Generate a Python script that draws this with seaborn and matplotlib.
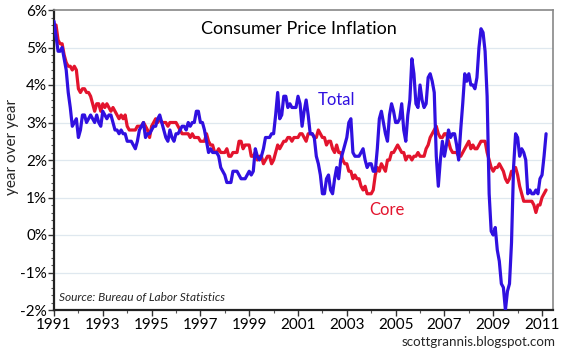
import numpy as np
import pandas as pd
import matplotlib
matplotlib.use("Agg")
import matplotlib.pyplot as plt
from matplotlib.ticker import MultipleLocator, FuncFormatter
import seaborn as sns

# Monthly year-over-year CPI inflation, Jan 1991 - Mar 2011 (%)
total = [
    5.7, 5.3, 4.9, 4.9, 5.0, 4.7, 4.4, 3.8, 3.4, 2.9, 3.0, 3.1,   # 1991
    2.6, 2.8, 3.2, 3.2, 3.0, 3.1, 3.2, 3.1, 3.0, 3.2, 3.0, 2.9,   # 1992
    3.3, 3.2, 3.1, 3.2, 3.2, 3.0, 2.8, 2.8, 2.7, 2.8, 2.7, 2.7,   # 1993
    2.5, 2.5, 2.5, 2.4, 2.3, 2.5, 2.8, 2.9, 3.0, 2.6, 2.7, 2.7,   # 1994
    2.8, 2.9, 2.9, 3.1, 3.2, 3.0, 2.8, 2.6, 2.5, 2.8, 2.6, 2.5,   # 1995
    2.7, 2.7, 2.8, 2.9, 2.9, 2.8, 3.0, 2.9, 3.0, 3.0, 3.3, 3.3,   # 1996
    3.0, 3.0, 2.8, 2.5, 2.2, 2.3, 2.2, 2.2, 2.2, 2.1, 1.8, 1.7,   # 1997
    1.6, 1.4, 1.4, 1.4, 1.7, 1.7, 1.7, 1.6, 1.5, 1.5, 1.5, 1.6,   # 1998
    1.7, 1.6, 1.7, 2.3, 2.1, 2.0, 2.1, 2.3, 2.6, 2.6, 2.6, 2.7,   # 1999
    2.7, 3.2, 3.8, 3.1, 3.2, 3.7, 3.7, 3.4, 3.5, 3.4, 3.4, 3.4,   # 2000
    3.7, 3.5, 2.9, 3.3, 3.6, 3.2, 2.7, 2.7, 2.6, 2.1, 1.9, 1.6,   # 2001
    1.1, 1.1, 1.5, 1.6, 1.2, 1.1, 1.5, 1.8, 1.5, 2.0, 2.2, 2.4,   # 2002
    2.6, 3.0, 3.1, 2.2, 2.1, 2.1, 2.1, 2.2, 2.3, 2.0, 1.8, 1.9,   # 2003
    1.9, 1.7, 1.7, 2.3, 3.1, 3.3, 3.0, 2.7, 2.5, 3.2, 3.5, 3.3,   # 2004
    3.0, 3.0, 3.1, 3.5, 2.8, 2.5, 3.2, 3.6, 4.7, 4.3, 3.5, 3.4,   # 2005
    4.0, 3.6, 3.4, 3.5, 4.2, 4.3, 4.1, 3.8, 2.1, 1.3, 2.0, 2.5,   # 2006
    2.1, 2.4, 2.8, 2.6, 2.7, 2.7, 2.4, 2.0, 2.8, 3.5, 4.3, 4.1,   # 2007
    4.3, 4.0, 4.0, 3.9, 4.2, 5.0, 5.5, 5.4, 4.9, 3.7, 1.1, 0.1,   # 2008
    0.0, 0.2, -0.4, -0.7, -1.3, -1.4, -2.0, -1.5, -1.3, -0.2, 1.8, 2.7,  # 2009
    2.6, 2.1, 2.3, 2.2, 2.0, 1.1, 1.2, 1.1, 1.1, 1.2, 1.1, 1.5,   # 2010
    1.6, 2.1, 2.7,                                                # 2011
]
core = [
    5.6, 5.6, 5.2, 5.1, 5.1, 4.8, 4.6, 4.5, 4.5, 4.4, 4.5, 4.4,   # 1991
    3.9, 3.8, 3.9, 3.9, 3.8, 3.8, 3.7, 3.5, 3.3, 3.5, 3.5, 3.3,   # 1992
    3.5, 3.4, 3.5, 3.4, 3.3, 3.4, 3.3, 3.2, 3.1, 3.2, 3.1, 3.2,   # 1993
    2.9, 2.8, 2.8, 2.8, 2.8, 2.9, 2.9, 2.9, 3.0, 2.9, 2.8, 2.6,   # 1994
    2.9, 3.0, 3.1, 3.0, 3.1, 3.0, 3.0, 3.0, 2.9, 3.0, 3.0, 3.0,   # 1995
    3.0, 2.9, 2.8, 2.7, 2.7, 2.7, 2.7, 2.6, 2.7, 2.6, 2.6, 2.6,   # 1996
    2.5, 2.5, 2.5, 2.7, 2.5, 2.4, 2.4, 2.2, 2.2, 2.3, 2.2, 2.2,   # 1997
    2.2, 2.3, 2.1, 2.1, 2.2, 2.2, 2.2, 2.5, 2.5, 2.3, 2.4, 2.4,   # 1998
    2.4, 2.1, 2.1, 2.2, 2.0, 2.1, 2.1, 1.9, 2.0, 2.1, 2.1, 1.9,   # 1999
    2.0, 2.2, 2.4, 2.3, 2.4, 2.5, 2.5, 2.6, 2.6, 2.5, 2.6, 2.6,   # 2000
    2.6, 2.7, 2.7, 2.6, 2.5, 2.7, 2.7, 2.7, 2.6, 2.6, 2.8, 2.7,   # 2001
    2.6, 2.6, 2.4, 2.5, 2.5, 2.3, 2.2, 2.4, 2.2, 2.2, 2.0, 1.9,   # 2002
    1.9, 1.7, 1.7, 1.5, 1.6, 1.5, 1.5, 1.3, 1.2, 1.3, 1.1, 1.1,   # 2003
    1.1, 1.2, 1.6, 1.8, 1.7, 1.9, 1.8, 1.7, 2.0, 2.0, 2.2, 2.2,   # 2004
    2.3, 2.4, 2.3, 2.2, 2.2, 2.0, 2.1, 2.1, 2.0, 2.1, 2.1, 2.2,   # 2005
    2.1, 2.1, 2.1, 2.3, 2.4, 2.6, 2.7, 2.8, 2.9, 2.7, 2.6, 2.6,   # 2006
    2.7, 2.7, 2.5, 2.3, 2.2, 2.2, 2.2, 2.1, 2.1, 2.2, 2.3, 2.4,   # 2007
    2.5, 2.3, 2.4, 2.3, 2.3, 2.4, 2.5, 2.5, 2.5, 2.2, 2.0, 1.8,   # 2008
    1.7, 1.8, 1.8, 1.9, 1.8, 1.7, 1.5, 1.4, 1.5, 1.7, 1.7, 1.8,   # 2009
    1.6, 1.3, 1.1, 0.9, 0.9, 0.9, 0.9, 0.9, 0.8, 0.6, 0.8, 0.8,   # 2010
    1.0, 1.1, 1.2,                                                # 2011
]
start_year = 1991
x_ticks = list(range(1991, 2012, 2))
y_ticks = list(range(-2, 7))

n = len(total)
t = start_year + np.arange(n) / 12.0
df = pd.DataFrame({"t": np.concatenate([t, t]),
                   "v": total + core,
                   "series": ["Total"] * n + ["Core"] * n})

sns.set_theme(style="white")
plt.rcParams["font.family"] = ["Lato", "DejaVu Sans"]

fig = plt.figure(figsize=(5.71, 3.56), dpi=100)
ax = fig.add_axes([54 / 571, 46 / 356, 499 / 571, 300 / 356])

blue = "#3010e0"
red = "#e3142d"
sns.lineplot(data=df, x="t", y="v", hue="series",
             hue_order=["Core", "Total"], palette={"Total": blue, "Core": red},
             linewidth=2.3, legend=False, ax=ax, estimator=None)
ax.lines[0].set_zorder(3)
ax.lines[1].set_zorder(4)

ax.set_xlim(1991, 2011.45)
ax.set_ylim(-2, 6)
ax.set_xticks(x_ticks)
ax.set_xticklabels([str(v) for v in x_ticks])
ax.xaxis.set_minor_locator(MultipleLocator(1))
ax.set_yticks(y_ticks)
ax.yaxis.set_major_formatter(FuncFormatter(lambda v, p: f"{int(v)}%"))
ax.yaxis.set_minor_locator(MultipleLocator(0.2))

for yv in range(-1, 6):
    ax.axhline(yv, color="#dfe8ef", linewidth=0.9, zorder=0)

ax.tick_params(axis="both", which="major", direction="out", length=4,
               width=1.0, color="#333333", labelsize=11, pad=1, labelcolor="black")
ax.tick_params(axis="both", which="minor", direction="out", length=2,
               width=0.8, color="#555555")
ax.tick_params(axis="x", which="major", pad=2)
ax.tick_params(left=True, bottom=True, which="both")

for s in ["left", "bottom"]:
    ax.spines[s].set_color("#222222")
    ax.spines[s].set_linewidth(1.6)
for s in ["top", "right"]:
    ax.spines[s].set_color("#888888")
    ax.spines[s].set_linewidth(1.2)

ax.set_xlabel("")
ax.set_ylabel("")
fig.text(12 / 571, 1 - 147 / 356, "year over year", rotation=90,
         ha="center", va="center", fontsize=11)

ax.text(0.49, 0.935, "Consumer Price Inflation", transform=ax.transAxes,
        ha="center", va="center", fontsize=13, color="black")
ax.text(2002.56, 3.6, "Total", color=blue, fontsize=12, ha="center", va="center")
ax.text(2004.65, 0.67, "Core", color=red, fontsize=12, ha="center", va="center")
ax.text(0.01, 0.04, "Source: Bureau of Labor Statistics", transform=ax.transAxes,
        ha="left", va="center", fontsize=8.6, style="italic")
fig.text(556 / 571, 0.022, "scottgrannis.blogspot.com", ha="right", va="bottom",
         fontsize=9.6)

fig.savefig("out.png", dpi=100)
